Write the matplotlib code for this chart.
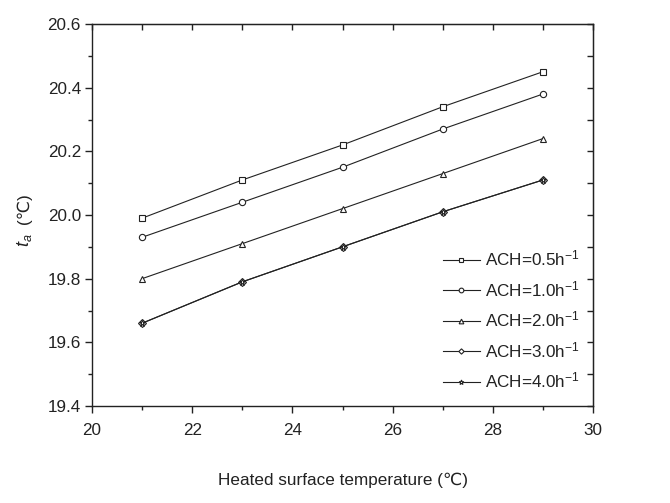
import matplotlib

matplotlib.use("Agg")
import matplotlib.pyplot as plt
from matplotlib.ticker import MultipleLocator, FormatStrFormatter

plt.rcParams["font.family"] = ["Liberation Sans", "DejaVu Sans"]
plt.rcParams["mathtext.fontset"] = "custom"
plt.rcParams["mathtext.rm"] = "Liberation Sans"
plt.rcParams["mathtext.it"] = "Liberation Sans:italic"

surface_temp = [21, 23, 25, 27, 29]
ach_labels = ["0.5", "1.0", "2.0", "3.0", "4.0"]
ta_05 = [19.99, 20.11, 20.22, 20.34, 20.45]
ta_10 = [19.93, 20.04, 20.15, 20.27, 20.38]
ta_20 = [19.80, 19.91, 20.02, 20.13, 20.24]
ta_30 = [19.66, 19.79, 19.90, 20.01, 20.11]
ta_40 = [19.66, 19.79, 19.90, 20.01, 20.11]

series = [ta_05, ta_10, ta_20, ta_30, ta_40]
markers = ["s", "o", "^", "D", "*"]
sizes = [4, 4.5, 4.5, 3.6, 4.8]

W, H = 670, 503
fig = plt.figure(figsize=(W / 100, H / 100), dpi=100)
# axes box in pixels: left 92, right 593, top 24, bottom 406
ax = fig.add_axes([92 / W, 1 - 406 / H, 501 / W, 382 / H])

for vals, lab, mk, ms in zip(series, ach_labels, markers, sizes):
    ax.plot(surface_temp, vals, color="#222222", lw=0.8, marker=mk, ms=ms,
            mfc="white", mec="#222222", mew=0.8,
            label=f"ACH={lab}h$^{{-1}}$")

ax.set_xlim(20, 30)
ax.set_ylim(19.4, 20.6)
ax.xaxis.set_major_locator(MultipleLocator(2))
ax.xaxis.set_minor_locator(MultipleLocator(1))
ax.yaxis.set_major_locator(MultipleLocator(0.2))
ax.yaxis.set_minor_locator(MultipleLocator(0.1))
ax.yaxis.set_major_formatter(FormatStrFormatter("%.1f"))
ax.tick_params(which="both", direction="out", labelsize=12.3, width=1.0,
               color="#222222", labelcolor="#222222")
ax.tick_params(which="major", length=5)
ax.tick_params(which="minor", length=3)
ax.tick_params(axis="x", which="major", pad=7)
ax.tick_params(axis="y", which="major", pad=3)
for sp in ax.spines.values():
    sp.set_linewidth(1.0)
    sp.set_color("#222222")

# top/right inward ticks
top = ax.secondary_xaxis("top")
top.xaxis.set_major_locator(MultipleLocator(1))
top.tick_params(direction="in", length=4, labeltop=False, width=1.0, color="#222222")
right = ax.secondary_yaxis("right")
right.yaxis.set_major_locator(MultipleLocator(0.1))
right.tick_params(direction="in", length=4, labelright=False, width=1.0, color="#222222")

ax.set_xlabel("Heated surface temperature (℃)", fontsize=12.3, labelpad=25,
              color="#222222")
fig.text(24 / W, 1 - 240 / H, "$t_a$", rotation=90, ha="center", va="center",
         fontsize=13, color="#222222")
fig.text(24 / W, 1 - 209 / H, "(℃)", rotation=90, ha="center", va="center",
         fontsize=12.3, color="#222222")

ax.legend(loc="lower right", frameon=False, fontsize=12.3, handlelength=2.2,
          handletextpad=0.3, labelspacing=0.62, markerscale=0.75,
          bbox_to_anchor=(1.005, 0.0), labelcolor="#222222")

fig.savefig("out.png", dpi=100)
